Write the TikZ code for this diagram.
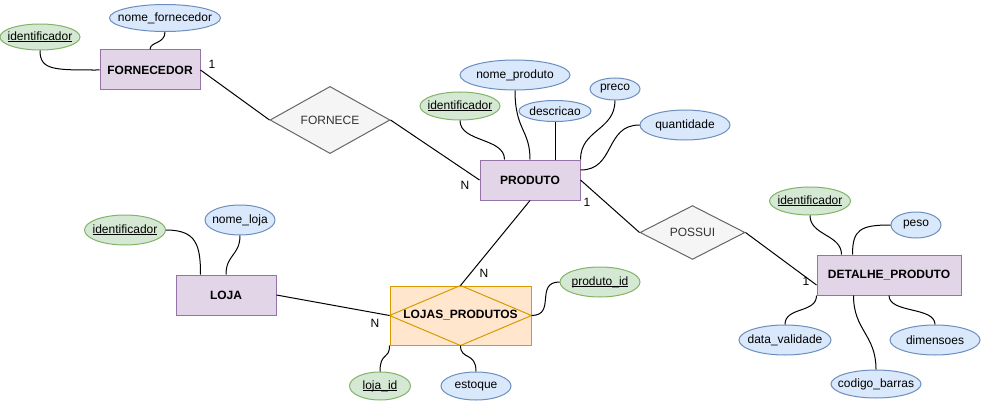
\documentclass[tikz,border=0pt]{standalone}
\usepackage{fontspec}
\setmainfont{Liberation Sans}
\usetikzlibrary{shapes.geometric}
\definecolor{purF}{HTML}{E1D5E7}
\definecolor{purD}{HTML}{9673A6}
\definecolor{grnF}{HTML}{D5E8D4}
\definecolor{grnD}{HTML}{82B366}
\definecolor{bluF}{HTML}{DAE8FC}
\definecolor{bluD}{HTML}{6C8EBF}
\definecolor{gryF}{HTML}{F5F5F5}
\definecolor{gryD}{HTML}{666666}
\definecolor{gryT}{HTML}{333333}
\definecolor{ornF}{HTML}{FFE6CC}
\definecolor{ornD}{HTML}{D79B00}
\newcommand\zt[1]{\makebox[0pt]{#1}}
\newcommand\ku[1]{\makebox[0pt]{\setbox0\hbox{#1}\rlap{\rule[-2pt]{\wd0}{0.9pt}}\box0}}
\begin{document}
\begin{tikzpicture}[x=1pt,y=-1pt,
  font=\fontsize{12}{14}\selectfont,
  ent/.style={draw=purD, fill=purF, line width=1pt, minimum width=100pt, minimum height=40pt, inner sep=0pt, font=\fontsize{12}{14}\selectfont\bfseries},
  keyatt/.style={ellipse, draw=grnD, fill=grnF, line width=1pt, inner sep=0pt},
  att/.style={ellipse, draw=bluD, fill=bluF, line width=1pt, inner sep=0pt},
  rel/.style={diamond, draw=gryD, fill=gryF, line width=1pt, inner sep=0pt, text=gryT},
  conn/.style={draw=black, line width=1pt},
  card/.style={inner sep=0pt, font=\fontsize{12}{14}\selectfont}]
\useasboundingbox (0,0) rectangle (981,401);

% entities
\node[ent] (FORN) at (150,70) {FORNECEDOR};
\node[ent] (PROD) at (530,180) {PRODUTO};
\node[ent, minimum width=144pt] (DET) at (889,275) {DETALHE\_PRODUTO};
\node[ent] (LOJA) at (226,295) {LOJA};
\node[draw=ornD, fill=ornF, line width=1pt, minimum width=141pt, minimum height=59pt, inner sep=0pt] (LP) at (460.5,315.5) {};
\draw[draw=ornD, line width=1pt] (LP.west) -- (LP.north) -- (LP.east) -- (LP.south) -- cycle;
\node[font=\fontsize{12}{14}\selectfont\bfseries, inner sep=0pt] (LPt) at (LP.center) {LOJAS\_PRODUTOS};

% relationships
\node[rel, minimum width=120pt, minimum height=60pt] (FORNECE) at (330,120) {FORNECE};
\node[rel, minimum width=105pt, minimum height=45pt] (POSSUI) at (692.5,232.5) {POSSUI};

% attributes
\node[keyatt, minimum width=80pt, minimum height=26pt] (idF) at (40,37) {\ku{identificador}};
\node[att, minimum width=111pt, minimum height=27pt] (nomeF) at (165,18) {\zt{nome\_fornecedor}};
\node[keyatt, minimum width=80pt, minimum height=28pt] (idP) at (460,106) {\ku{identificador}};
\node[att, minimum width=110pt, minimum height=30pt] (nomeP) at (515,75) {\zt{nome\_produto}};
\node[att, minimum width=72pt, minimum height=21pt] (desc) at (555,111) {\zt{descricao}};
\node[att, minimum width=50pt, minimum height=22pt] (preco) at (615,89) {\zt{preco}};
\node[att, minimum width=90pt, minimum height=30pt] (qty) at (685,125) {\zt{quantidade}};
\node[keyatt, minimum width=81pt, minimum height=28pt] (idD) at (810,201) {\ku{identificador}};
\node[att, minimum width=50pt, minimum height=26pt] (peso) at (916,225) {\zt{peso}};
\node[att, minimum width=92pt, minimum height=30pt] (dval) at (785,340) {\zt{data\_validade}};
\node[att, minimum width=90pt, minimum height=30pt] (dim) at (935,340) {\zt{dimensoes}};
\node[att, minimum width=90pt, minimum height=28pt] (cod) at (876,384) {\zt{codigo\_barras}};
\node[keyatt, minimum width=81pt, minimum height=30pt] (idL) at (125,230) {\ku{identificador}};
\node[att, minimum width=70pt, minimum height=30pt] (nomeL) at (240,220) {\zt{nome\_loja}};
\node[keyatt, minimum width=80pt, minimum height=30pt] (pid) at (600,282) {\ku{produto\_id}};
\node[keyatt, minimum width=61pt, minimum height=28pt] (lid) at (380,386) {\ku{loja\_id}};
\node[att, minimum width=70pt, minimum height=28pt] (est) at (476,386) {\zt{estoque}};

% attribute connectors
\draw[conn] (idF.south) .. controls +(0,20) and +(-45,0) .. (FORN.west);
\draw[conn] (nomeF.south) .. controls +(0,12) and +(0,-8) .. (FORN.north);
\draw[conn] (idP.south) .. controls +(0,22) and +(0,-22) .. ([xshift=25pt]PROD.north west);
\draw[conn] (nomeP.south) .. controls +(0,40) and +(0,-30) .. (PROD.north);
\draw[conn] (desc.south) -- (desc.south |- PROD.north);
\draw[conn] (preco.south) .. controls +(0,30) and +(0,-30) .. (PROD.north east);
\draw[conn] (qty.west) .. controls +(-35,0) and +(35,0) .. ([yshift=10pt]PROD.east);
\draw[conn] (idD.south) .. controls +(0,20) and +(0,-20) .. ([xshift=25pt]DET.north west);
\draw[conn] (peso.west) .. controls +(-30,0) and +(0,-25) .. ([xshift=36pt]DET.north west);
\draw[conn] (dval.north) .. controls +(0,-18) and +(0,18) .. (DET.south west);
\draw[conn] (cod.north) .. controls +(0,-35) and +(0,35) .. ([xshift=37pt]DET.south west);
\draw[conn] (dim.north) .. controls +(0,-18) and +(0,18) .. (DET.south);
\draw[conn] (idL.east) .. controls +(30,0) and +(0,-30) .. ([xshift=25pt]LOJA.north west);
\draw[conn] (nomeL.south) .. controls +(0,20) and +(0,-20) .. (LOJA.north);
\draw[conn] (pid.west) .. controls +(-25,0) and +(25,0) .. (LP.east);
\draw[conn] (lid.north) .. controls +(0,-20) and +(0,15) .. (LP.south west);
\draw[conn] (est.north) .. controls +(0,-20) and +(0,15) .. (LP.south);

% relationship connectors
\draw[conn] (FORN.east) -- (FORNECE.west);
\draw[conn] (FORNECE.east) -- (PROD.west);
\draw[conn] (PROD.east) -- (POSSUI.west);
\draw[conn] (POSSUI.east) -- ([yshift=-10pt]DET.west);
\draw[conn] (LOJA.east) -- (LP.west);
\draw[conn] (PROD.south) -- (LP.north);

% cardinalities
\node[card] (c1) at (212,64) {1};
\node[card] (c2) at (465,185) {N};
\node[card] (c3) at (587,202) {1};
\node[card] (c4) at (806,281) {1};
\node[card] (c5) at (375,323) {N};
\node[card] (c6) at (484,273) {N};
\end{tikzpicture}
\end{document}
